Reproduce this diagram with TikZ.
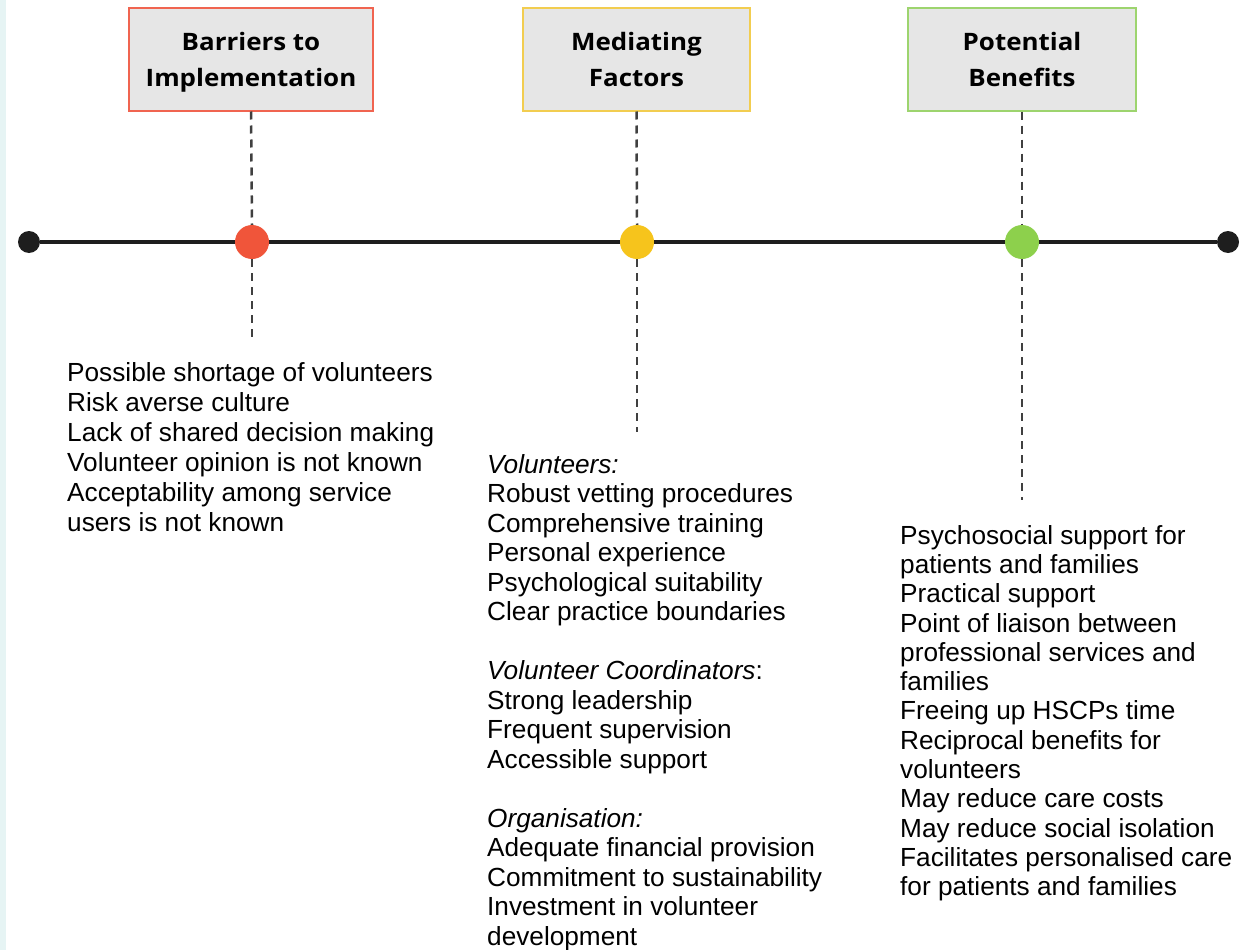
\documentclass[tikz,border=0pt]{standalone}
\usepackage{fontspec}
\setmainfont{Liberation Sans}
\newfontfamily\headfont[FakeStretch=1.08]{Open Sans}
\usetikzlibrary{positioning}

\definecolor{boxgrey}{HTML}{E6E6E6}
\definecolor{barred}{HTML}{F0553A}
\definecolor{medyellow}{HTML}{F6C41C}
\definecolor{bengreen}{HTML}{8DD04C}
\definecolor{barline}{HTML}{F06450}
\definecolor{medline}{HTML}{F2CD50}
\definecolor{benline}{HTML}{9DD46E}
\definecolor{inkline}{HTML}{1E1E1E}
\definecolor{edgecyan}{HTML}{E6F4F4}

\begin{document}
\begin{tikzpicture}[x=1pt, y=-1pt, font=\fontsize{26.2}{29.5}\selectfont,
  header/.style={draw, line width=2pt, fill=boxgrey, minimum height=102pt,
    inner sep=0pt, text depth=0pt, align=center,
    font=\headfont\bfseries\fontsize{24}{36}\selectfont},
  dot/.style={circle, inner sep=0pt, minimum size=34pt},
  enddot/.style={circle, fill=inkline, inner sep=0pt, minimum size=22pt},
  timeline/.style={draw=inkline, line width=4pt},
  guide/.style={draw=inkline!85, line width=2.5pt, dash pattern=on 8pt off 6pt},
  listtext/.style={anchor=north west, align=left, inner sep=0pt}]

% Canvas
\useasboundingbox (0,0) rectangle (1240,950);
\fill[white] (0,0) rectangle (1240,950);
\fill[edgecyan] (0,0) rectangle (6,950);

% Headers
\node[header, draw=barline, minimum width=244pt] (barriers) at (251,59.5) {Barriers to\\Implementation};
\node[header, draw=medline, minimum width=227pt] (mediating) at (636.5,59.5) {Mediating\\Factors};
\node[header, draw=benline, minimum width=228pt] (benefits) at (1022,59.5) {Potential\\Benefits};

% Timeline
\node[enddot] (startpt) at (29,242) {};
\node[enddot] (endpt) at (1228,242) {};
\draw[timeline] (startpt) -- (endpt);

\node[dot, fill=barred] (dotbar) at (252,242) {};
\node[dot, fill=medyellow] (dotmed) at (637,242) {};
\node[dot, fill=bengreen] (dotben) at (1022,242) {};

% Guides
\coordinate (bartail) at (252,342);
\coordinate (medtail) at (637,432);
\coordinate (bentail) at (1022,500);

\draw[guide] (barriers.south) -- (dotbar.north);
\draw[guide] (dotbar.south) -- (bartail);
\draw[guide] (mediating.south) -- (dotmed.north);
\draw[guide] (dotmed.south) -- (medtail);
\draw[guide] (benefits.south) -- (dotben.north);
\draw[guide] (dotben.south) -- (bentail);

% Lists
\node[listtext, font=\fontsize{26.2}{30}\selectfont] (bartext) at (67,362) {Possible shortage of volunteers\\
Risk averse culture\\
Lack of shared decision making\\
Volunteer opinion is not known\\
Acceptability among service\\
users is not known};

\node[listtext] (medtext) at (487,454) {\textit{Volunteers:}\\
Robust vetting procedures\\
Comprehensive training\\
Personal experience\\
Psychological suitability\\
Clear practice boundaries\\[29.5pt]
\textit{Volunteer Coordinators}:\\
Strong leadership\\
Frequent supervision\\
Accessible support\\[29.5pt]
\textit{Organisation:}\\
Adequate financial provision\\
Commitment to sustainability\\
Investment in volunteer\\
development};

\node[listtext, font=\fontsize{26.2}{29.3}\selectfont] (bentext) at (900,525) {Psychosocial support for\\
patients and families\\
Practical support\\
Point of liaison between\\
professional services and\\
families\\
Freeing up HSCPs time\\
Reciprocal benefits for\\
volunteers\\
May reduce care costs\\
May reduce social isolation\\
Facilitates personalised care\\
for patients and families};

\end{tikzpicture}
\end{document}
